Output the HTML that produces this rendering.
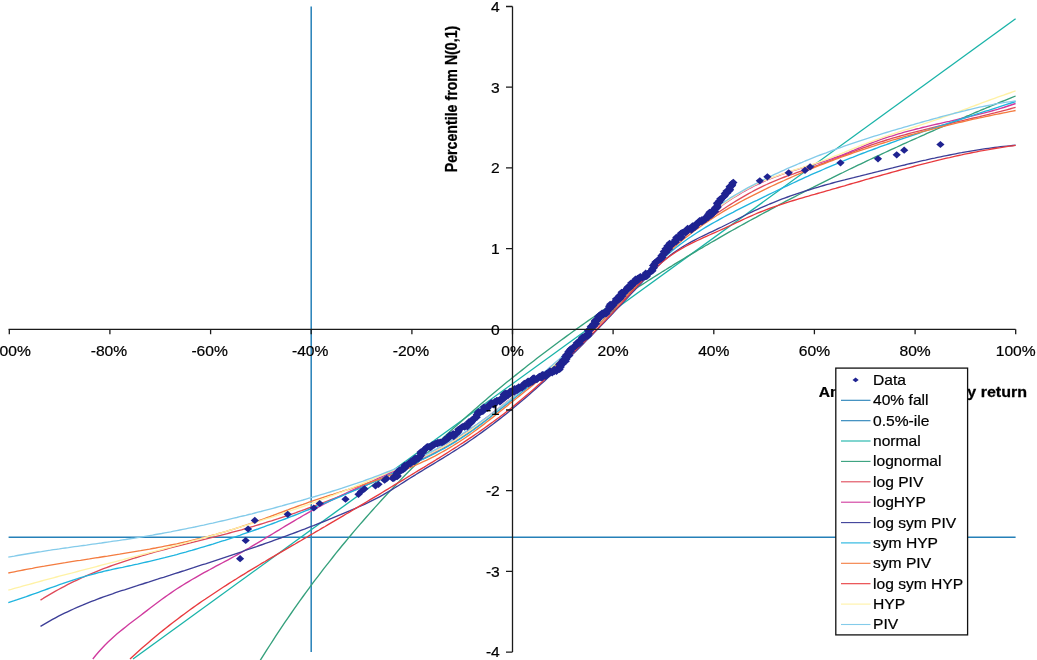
<!DOCTYPE html>
<html><head><meta charset="utf-8"><title>QQ plot</title><style>html,body{margin:0;padding:0;background:#fff}svg{display:block}</style></head><body>
<svg width="1037" height="660" viewBox="0 0 1037 660">
<rect width="1037" height="660" fill="#fff"/>
<defs><path id="d" d="M0 -3.6L4.1 0L0 3.6L-4.1 0Z"/></defs>
<clipPath id="cp"><rect x="0" y="0" width="1037" height="660"/></clipPath>
<g fill="none" stroke-width="1.5">
<path d="M311.2 6.5L311.2 652.1" stroke="#2580b8"/>
<path d="M8.6 537.2L1015.6 537.2" stroke="#2580b8"/>
</g>
<g fill="none" stroke-width="1.35" stroke-linejoin="round" clip-path="url(#cp)">
<path d="M133 659L1015.6 18.8" stroke="#19b3a8"/>
<path d="M258 664.1L261 659.2L264 654.4L267 649.7L270 645L273 640.3L276 635.7L279 631.2L282 626.7L285 622.2L288 617.8L291 613.5L294 609.2L297 604.9L300 600.7L303 596.5L306 592.4L309 588.3L312 584.2L315 580.2L318 576.3L321 572.3L324 568.4L327 564.6L330 560.8L333 557L336 553.2L339 549.5L342 545.8L345 542.2L348 538.6L351 535L354 531.4L357 527.9L360 524.4L363 521L366 517.5L369 514.1L372 510.7L375 507.4L378 504.1L381 500.8L384 497.5L387 494.3L390 491.1L393 487.9L396 484.7L399 481.6L402 478.4L405 475.3L408 472.3L411 469.2L414 466.2L417 463.2L420 460.2L423 457.3L426 454.3L429 451.4L432 448.5L435 445.6L438 442.8L441 440L444 437.1L447 434.3L450 431.6L453 428.8L456 426.1L459 423.4L462 420.7L465 418L468 415.3L471 412.7L474 410L477 407.4L480 404.8L483 402.2L486 399.7L489 397.1L492 394.6L495 392.1L498 389.6L501 387.1L504 384.6L507 382.1L510 379.7L513 377.3L516 374.9L519 372.5L522 370.1L525 367.7L528 365.3L531 363L534 360.7L537 358.3L540 356L543 353.8L546 351.5L549 349.2L552 347L555 344.7L558 342.5L561 340.3L564 338.1L567 335.9L570 333.7L573 331.5L576 329.4L579 327.2L582 325.1L585 323L588 320.9L591 318.7L594 316.7L597 314.6L600 312.5L603 310.4L606 308.4L609 306.4L612 304.3L615 302.3L618 300.3L621 298.3L624 296.3L627 294.3L630 292.4L633 290.4L636 288.5L639 286.5L642 284.6L645 282.7L648 280.8L651 278.9L654 277L657 275.1L660 273.2L663 271.3L666 269.5L669 267.6L672 265.8L675 263.9L678 262.1L681 260.3L684 258.5L687 256.7L690 254.9L693 253.1L696 251.3L699 249.5L702 247.8L705 246L708 244.3L711 242.5L714 240.8L717 239.1L720 237.3L723 235.6L726 233.9L729 232.2L732 230.5L735 228.9L738 227.2L741 225.5L744 223.8L747 222.2L750 220.5L753 218.9L756 217.3L759 215.6L762 214L765 212.4L768 210.8L771 209.2L774 207.6L777 206L780 204.4L783 202.8L786 201.2L789 199.7L792 198.1L795 196.6L798 195L801 193.5L804 191.9L807 190.4L810 188.9L813 187.4L816 185.8L819 184.3L822 182.8L825 181.3L828 179.8L831 178.4L834 176.9L837 175.4L840 173.9L843 172.5L846 171L849 169.5L852 168.1L855 166.7L858 165.2L861 163.8L864 162.4L867 160.9L870 159.5L873 158.1L876 156.7L879 155.3L882 153.9L885 152.5L888 151.1L891 149.7L894 148.3L897 147L900 145.6L903 144.2L906 142.9L909 141.5L912 140.1L915 138.8L918 137.5L921 136.1L924 134.8L927 133.4L930 132.1L933 130.8L936 129.5L939 128.2L942 126.9L945 125.6L948 124.3L951 123L954 121.7L957 120.4L960 119.1L963 117.8L966 116.5L969 115.3L972 114L975 112.7L978 111.5L981 110.2L984 109L987 107.7L990 106.5L993 105.2L996 104L999 102.7L1002 101.5L1005 100.3L1008 99.1L1011 97.9L1015.6 96" stroke="#35a07c"/>
<path d="M40.5 600.1L43.5 598.2L46.5 596.4L49.5 594.6L52.5 592.8L55.5 591.1L58.5 589.5L61.5 587.9L64.5 586.3L67.5 584.7L70.5 583.2L73.5 581.7L76.5 580.3L79.5 578.9L82.5 577.5L85.5 576.2L88.5 574.9L91.5 573.6L94.5 572.3L97.5 571.1L100.5 569.9L103.5 568.7L106.5 567.6L109.5 566.5L112.5 565.4L115.5 564.3L118.5 563.3L121.5 562.3L124.5 561.3L127.5 560.3L130.5 559.3L133.5 558.4L136.5 557.5L139.5 556.5L142.5 555.7L145.5 554.8L148.5 553.9L151.5 553.1L154.5 552.2L157.5 551.4L160.5 550.6L163.5 549.8L166.5 549L169.5 548.2L172.5 547.4L175.5 546.7L178.5 545.9L181.5 545.1L184.5 544.4L187.5 543.6L190.5 542.9L193.5 542.1L196.5 541.4L199.5 540.7L202.5 539.9L205.5 539.2L208.5 538.4L211.5 537.7L214.5 536.9L217.5 536.1L220.5 535.4L223.5 534.6L226.5 533.8L229.5 533L232.5 532.2L235.5 531.4L238.5 530.6L241.5 529.8L244.5 528.9L247.5 528.1L250.5 527.2L253.5 526.3L256.5 525.4L259.5 524.5L262.5 523.6L265.5 522.7L268.5 521.7L271.5 520.8L274.5 519.8L277.5 518.9L280.5 517.9L283.5 516.9L286.5 515.9L289.5 514.9L292.5 513.8L295.5 512.8L298.5 511.7L301.5 510.7L304.5 509.6L307.5 508.5L310.5 507.4L313.5 506.3L316.5 505.2L319.5 504.1L322.5 503L325.5 501.8L328.5 500.6L331.5 499.5L334.5 498.3L337.5 497.1L340.5 495.9L343.5 494.7L346.5 493.5L349.5 492.2L352.5 491L355.5 489.7L358.5 488.5L361.5 487.2L364.5 485.9L367.5 484.6L370.5 483.3L373.5 482L376.5 480.7L379.5 479.3L382.5 478L385.5 476.6L388.5 475.3L391.5 473.9L394.5 472.5L397.5 471.1L400.5 469.7L403.5 468.3L406.5 466.9L409.5 465.5L412.5 464L415.5 462.6L418.5 461.1L421.5 459.6L424.5 458.1L427.5 456.6L430.5 455.1L433.5 453.5L436.5 451.9L439.5 450.3L442.5 448.7L445.5 447L448.5 445.3L451.5 443.5L454.5 441.7L457.5 439.9L460.5 438L463.5 436L466.5 434.1L469.5 432L472.5 430L475.5 427.8L478.5 425.7L481.5 423.5L484.5 421.3L487.5 419L490.5 416.7L493.5 414.4L496.5 412.1L499.5 409.7L502.5 407.4L505.5 405L508.5 402.6L511.5 400.2L514.5 397.7L517.5 395.3L520.5 392.9L523.5 390.4L526.5 388L529.6 385.5L532.6 383L535.6 380.5L538.6 378L541.6 375.5L544.6 372.9L547.6 370.4L550.6 367.8L553.6 365.2L556.6 362.6L559.6 360L562.6 357.4L565.6 354.7L568.6 352L571.6 349.3L574.6 346.6L577.6 343.8L580.6 341.1L583.6 338.3L586.6 335.4L589.6 332.6L592.6 329.7L595.6 326.8L598.6 323.9L601.6 321L604.6 318L607.6 315L610.6 311.9L613.6 308.9L616.6 305.8L619.6 302.6L622.6 299.5L625.6 296.3L628.6 293L631.6 289.8L634.6 286.5L637.6 283.2L640.6 279.8L643.6 276.5L646.6 273.1L649.6 269.8L652.6 266.5L655.6 263.3L658.6 260.1L661.6 257L664.6 253.9L667.6 251L670.6 248.2L673.6 245.4L676.6 242.8L679.6 240.2L682.6 237.8L685.6 235.4L688.6 233L691.6 230.8L694.6 228.5L697.6 226.4L700.6 224.3L703.6 222.2L706.6 220.1L709.6 218.1L712.6 216.1L715.6 214.1L718.6 212.2L721.6 210.2L724.6 208.3L727.6 206.3L730.6 204.4L733.6 202.5L736.6 200.7L739.6 198.9L742.6 197.1L745.6 195.3L748.6 193.6L751.6 192L754.6 190.3L757.6 188.8L760.6 187.3L763.6 185.8L766.6 184.5L769.6 183.1L772.6 181.8L775.6 180.6L778.6 179.4L781.6 178.2L784.6 177L787.6 175.9L790.6 174.8L793.6 173.8L796.6 172.7L799.6 171.6L802.6 170.6L805.6 169.6L808.6 168.5L811.6 167.5L814.6 166.4L817.6 165.3L820.6 164.2L823.6 163.1L826.6 162L829.6 160.9L832.6 159.7L835.6 158.6L838.6 157.4L841.6 156.2L844.6 155L847.6 153.9L850.6 152.7L853.6 151.6L856.6 150.4L859.6 149.3L862.6 148.2L865.6 147.1L868.6 146L871.6 144.9L874.6 143.9L877.6 142.9L880.6 141.9L883.6 141L886.6 140L889.6 139.1L892.6 138.2L895.6 137.3L898.6 136.5L901.6 135.6L904.6 134.8L907.6 134L910.6 133.2L913.6 132.4L916.6 131.6L919.6 130.8L922.6 130.1L925.6 129.3L928.6 128.6L931.6 127.8L934.6 127.1L937.6 126.4L940.6 125.7L943.6 125L946.6 124.3L949.6 123.6L952.6 122.9L955.6 122.2L958.6 121.5L961.6 120.8L964.6 120.1L967.6 119.4L970.6 118.7L973.6 118L976.6 117.3L979.6 116.6L982.6 115.8L985.6 115.1L988.6 114.4L991.6 113.6L994.6 112.9L997.6 112.1L1000.6 111.4L1003.6 110.6L1006.6 109.8L1009.6 109L1012.6 108.1L1015.6 107.3" stroke="#df4a5a"/>
<path d="M92.8 659L95.8 655.3L98.8 651.8L101.8 648.5L104.8 645.3L107.8 642.3L110.8 639.5L113.8 636.7L116.8 634.1L119.9 631.5L122.9 629.1L125.9 626.7L128.9 624.3L131.9 622L134.9 619.7L137.9 617.5L140.9 615.2L143.9 612.9L146.9 610.6L149.9 608.3L152.9 606L155.9 603.8L158.9 601.5L161.9 599.3L164.9 597.1L167.9 595L171 592.9L174 590.8L177 588.8L180 586.9L183 585L186 583.1L189 581.3L192 579.5L195 577.8L198 576.1L201 574.4L204 572.7L207 571.1L210 569.5L213 567.8L216 566.2L219 564.6L222.1 563L225.1 561.4L228.1 559.8L231.1 558.2L234.1 556.5L237.1 554.8L240.1 553.2L243.1 551.5L246.1 549.7L249.1 548L252.1 546.2L255.1 544.4L258.1 542.6L261.1 540.8L264.1 539L267.1 537.2L270.1 535.4L273.2 533.5L276.2 531.7L279.2 529.9L282.2 528L285.2 526.2L288.2 524.4L291.2 522.6L294.2 520.8L297.2 519L300.2 517.3L303.2 515.5L306.2 513.8L309.2 512.1L312.2 510.5L315.2 508.8L318.2 507.2L321.2 505.6L324.3 504L327.3 502.5L330.3 501L333.3 499.4L336.3 497.9L339.3 496.5L342.3 495L345.3 493.6L348.3 492.1L351.3 490.7L354.3 489.3L357.3 487.9L360.3 486.5L363.3 485.1L366.3 483.7L369.3 482.4L372.3 481L375.4 479.6L378.4 478.2L381.4 476.9L384.4 475.5L387.4 474.1L390.4 472.8L393.4 471.4L396.4 470L399.4 468.6L402.4 467.2L405.4 465.8L408.4 464.4L411.4 462.9L414.4 461.5L417.4 460L420.4 458.6L423.4 457.1L426.5 455.5L429.5 454L432.5 452.4L435.5 450.8L438.5 449.2L441.5 447.5L444.5 445.8L447.5 444.1L450.5 442.3L453.5 440.5L456.5 438.6L459.5 436.7L462.5 434.7L465.5 432.7L468.5 430.7L471.5 428.6L474.5 426.4L477.6 424.2L480.6 422L483.6 419.8L486.6 417.5L489.6 415.2L492.6 412.9L495.6 410.6L498.6 408.3L501.6 406L504.6 403.6L507.6 401.3L510.6 399L513.6 396.7L516.6 394.4L519.6 392.1L522.6 389.8L525.6 387.5L528.7 385.2L531.7 382.9L534.7 380.6L537.7 378.2L540.7 375.9L543.7 373.5L546.7 371.1L549.7 368.7L552.7 366.2L555.7 363.7L558.7 361.1L561.7 358.5L564.7 355.8L567.7 353.1L570.7 350.4L573.7 347.6L576.7 344.7L579.7 341.8L582.8 338.9L585.8 335.9L588.8 332.9L591.8 329.9L594.8 326.8L597.8 323.7L600.8 320.6L603.8 317.5L606.8 314.4L609.8 311.2L612.8 308L615.8 304.8L618.8 301.7L621.8 298.5L624.8 295.3L627.8 292.1L630.8 288.9L633.9 285.7L636.9 282.5L639.9 279.4L642.9 276.2L645.9 273.1L648.9 270L651.9 266.9L654.9 263.8L657.9 260.8L660.9 257.8L663.9 254.8L666.9 251.8L669.9 248.9L672.9 246.1L675.9 243.2L678.9 240.5L681.9 237.7L685 235L688 232.4L691 229.7L694 227.2L697 224.6L700 222.1L703 219.7L706 217.3L709 215L712 212.7L715 210.4L718 208.2L721 206.1L724 204L727 201.9L730 200L733 198L736.1 196.1L739.1 194.3L742.1 192.5L745.1 190.8L748.1 189.2L751.1 187.6L754.1 186L757.1 184.6L760.1 183.1L763.1 181.8L766.1 180.5L769.1 179.2L772.1 178L775.1 176.9L778.1 175.8L781.1 174.7L784.1 173.7L787.2 172.7L790.2 171.7L793.2 170.7L796.2 169.8L799.2 168.9L802.2 167.9L805.2 167L808.2 166.1L811.2 165.2L814.2 164.3L817.2 163.4L820.2 162.5L823.2 161.5L826.2 160.6L829.2 159.6L832.2 158.6L835.2 157.5L838.3 156.5L841.3 155.3L844.3 154.2L847.3 153L850.3 151.7L853.3 150.5L856.3 149.2L859.3 148L862.3 146.7L865.3 145.4L868.3 144.2L871.3 143L874.3 141.9L877.3 140.8L880.3 139.7L883.3 138.7L886.3 137.7L889.4 136.7L892.4 135.8L895.4 134.8L898.4 133.9L901.4 133.1L904.4 132.2L907.4 131.4L910.4 130.6L913.4 129.8L916.4 129L919.4 128.3L922.4 127.5L925.4 126.8L928.4 126.1L931.4 125.4L934.4 124.7L937.4 124L940.5 123.3L943.5 122.6L946.5 121.9L949.5 121.3L952.5 120.6L955.5 119.9L958.5 119.2L961.5 118.5L964.5 117.8L967.5 117.1L970.5 116.4L973.5 115.7L976.5 114.9L979.5 114.2L982.5 113.4L985.5 112.6L988.5 111.8L991.6 111L994.6 110.1L997.6 109.3L1000.6 108.4L1003.6 107.5L1006.6 106.5L1009.6 105.5L1012.6 104.5L1015.6 103.5" stroke="#d03a9e"/>
<path d="M40.5 626.4L43.5 624.6L46.5 622.8L49.5 621.1L52.5 619.4L55.5 617.8L58.5 616.2L61.5 614.7L64.5 613.2L67.5 611.8L70.5 610.4L73.5 609L76.5 607.7L79.5 606.3L82.5 605.1L85.5 603.8L88.5 602.6L91.5 601.4L94.5 600.3L97.5 599.1L100.5 598L103.5 596.9L106.5 595.9L109.5 594.8L112.5 593.8L115.5 592.7L118.5 591.7L121.5 590.7L124.5 589.8L127.5 588.8L130.5 587.8L133.5 586.8L136.5 585.9L139.5 584.9L142.5 584L145.5 583L148.5 582.1L151.5 581.1L154.5 580.1L157.5 579.2L160.5 578.2L163.5 577.3L166.5 576.3L169.5 575.4L172.5 574.4L175.5 573.4L178.5 572.5L181.5 571.5L184.5 570.6L187.5 569.6L190.5 568.6L193.5 567.7L196.5 566.7L199.5 565.7L202.5 564.7L205.5 563.8L208.5 562.8L211.5 561.8L214.5 560.8L217.5 559.8L220.5 558.8L223.5 557.8L226.5 556.8L229.5 555.8L232.5 554.8L235.5 553.8L238.5 552.8L241.5 551.8L244.5 550.7L247.5 549.7L250.5 548.7L253.5 547.6L256.5 546.6L259.5 545.5L262.5 544.5L265.5 543.4L268.5 542.4L271.5 541.3L274.5 540.2L277.5 539.1L280.5 538L283.5 536.9L286.5 535.8L289.5 534.7L292.5 533.6L295.5 532.5L298.5 531.3L301.5 530.2L304.5 529.1L307.5 527.9L310.5 526.7L313.5 525.6L316.5 524.4L319.5 523.2L322.5 522L325.5 520.8L328.5 519.6L331.5 518.4L334.5 517.1L337.5 515.9L340.5 514.7L343.5 513.4L346.5 512.1L349.5 510.9L352.5 509.6L355.5 508.3L358.5 507L361.5 505.6L364.5 504.3L367.5 502.9L370.5 501.4L373.5 499.9L376.5 498.4L379.5 496.8L382.5 495.2L385.5 493.4L388.5 491.7L391.5 489.9L394.5 488L397.5 486.2L400.5 484.3L403.5 482.4L406.5 480.4L409.5 478.5L412.5 476.6L415.5 474.8L418.5 472.9L421.5 471.1L424.5 469.2L427.5 467.4L430.5 465.6L433.5 463.8L436.5 462L439.5 460.2L442.5 458.4L445.5 456.5L448.5 454.7L451.5 452.8L454.5 450.9L457.5 449L460.5 447L463.5 445.1L466.5 443.1L469.5 441L472.5 439L475.5 436.9L478.5 434.8L481.5 432.6L484.5 430.4L487.5 428.2L490.5 426L493.5 423.7L496.5 421.4L499.5 419.1L502.5 416.7L505.5 414.4L508.5 411.9L511.5 409.5L514.5 407L517.5 404.5L520.5 402L523.5 399.5L526.5 396.9L529.6 394.3L532.6 391.6L535.6 389L538.6 386.3L541.6 383.6L544.6 380.9L547.6 378.1L550.6 375.4L553.6 372.6L556.6 369.7L559.6 366.9L562.6 364L565.6 361.2L568.6 358.3L571.6 355.3L574.6 352.4L577.6 349.4L580.6 346.5L583.6 343.5L586.6 340.4L589.6 337.4L592.6 334.4L595.6 331.3L598.6 328.2L601.6 325.1L604.6 322L607.6 318.9L610.6 315.7L613.6 312.6L616.6 309.4L619.6 306.2L622.6 303.1L625.6 299.9L628.6 296.6L631.6 293.4L634.6 290.2L637.6 286.9L640.6 283.7L643.6 280.5L646.6 277.4L649.6 274.2L652.6 271.2L655.6 268.2L658.6 265.4L661.6 262.6L664.6 260L667.6 257.5L670.6 255.1L673.6 252.9L676.6 250.7L679.6 248.7L682.6 246.8L685.6 245L688.6 243.3L691.6 241.7L694.6 240.1L697.6 238.5L700.6 237L703.6 235.6L706.6 234.2L709.6 232.7L712.6 231.3L715.6 229.9L718.6 228.4L721.6 227L724.6 225.5L727.6 224L730.6 222.5L733.6 221L736.6 219.5L739.6 218L742.6 216.5L745.6 215L748.6 213.5L751.6 212.1L754.6 210.7L757.6 209.3L760.6 207.9L763.6 206.6L766.6 205.3L769.6 204L772.6 202.8L775.6 201.6L778.6 200.4L781.6 199.2L784.6 198.1L787.6 197L790.6 195.9L793.6 194.9L796.6 193.9L799.6 192.9L802.6 191.9L805.6 190.9L808.6 190L811.6 189.1L814.6 188.2L817.6 187.3L820.6 186.4L823.6 185.5L826.6 184.7L829.6 183.9L832.6 183L835.6 182.2L838.6 181.4L841.6 180.6L844.6 179.9L847.6 179.1L850.6 178.3L853.6 177.6L856.6 176.8L859.6 176.1L862.6 175.3L865.6 174.6L868.6 173.8L871.6 173.1L874.6 172.3L877.6 171.6L880.6 170.8L883.6 170.1L886.6 169.3L889.6 168.6L892.6 167.9L895.6 167.1L898.6 166.4L901.6 165.7L904.6 165L907.6 164.2L910.6 163.5L913.6 162.8L916.6 162.1L919.6 161.4L922.6 160.7L925.6 160.1L928.6 159.4L931.6 158.7L934.6 158.1L937.6 157.4L940.6 156.8L943.6 156.2L946.6 155.6L949.6 155L952.6 154.4L955.6 153.8L958.6 153.2L961.6 152.7L964.6 152.1L967.6 151.6L970.6 151.1L973.6 150.6L976.6 150.1L979.6 149.6L982.6 149.1L985.6 148.7L988.6 148.3L991.6 147.9L994.6 147.5L997.6 147.1L1000.6 146.7L1003.6 146.4L1006.6 146.1L1009.6 145.8L1012.6 145.5L1015.6 145.2" stroke="#3d3f98"/>
<path d="M8.3 602.6L11.3 601.6L14.3 600.7L17.3 599.7L20.3 598.6L23.3 597.6L26.3 596.6L29.3 595.5L32.4 594.4L35.4 593.4L38.4 592.3L41.4 591.2L44.4 590.1L47.4 589L50.4 587.9L53.4 586.9L56.4 585.8L59.4 584.7L62.4 583.7L65.4 582.6L68.4 581.6L71.4 580.6L74.5 579.6L77.5 578.7L80.5 577.7L83.5 576.8L86.5 575.9L89.5 575.1L92.5 574.3L95.5 573.5L98.5 572.7L101.5 572L104.5 571.2L107.5 570.5L110.5 569.9L113.5 569.2L116.5 568.5L119.6 567.9L122.6 567.3L125.6 566.6L128.6 566L131.6 565.4L134.6 564.7L137.6 564.1L140.6 563.4L143.6 562.7L146.6 562L149.6 561.3L152.6 560.6L155.6 559.9L158.6 559.2L161.7 558.4L164.7 557.7L167.7 556.9L170.7 556.1L173.7 555.4L176.7 554.6L179.7 553.7L182.7 552.9L185.7 552.1L188.7 551.2L191.7 550.4L194.7 549.5L197.7 548.6L200.7 547.7L203.7 546.8L206.8 545.9L209.8 545L212.8 544.1L215.8 543.1L218.8 542.2L221.8 541.2L224.8 540.3L227.8 539.3L230.8 538.3L233.8 537.3L236.8 536.3L239.8 535.3L242.8 534.2L245.8 533.2L248.8 532.2L251.9 531.1L254.9 530L257.9 529L260.9 527.9L263.9 526.8L266.9 525.7L269.9 524.6L272.9 523.5L275.9 522.4L278.9 521.2L281.9 520.1L284.9 519L287.9 517.8L290.9 516.6L294 515.5L297 514.3L300 513.1L303 511.9L306 510.7L309 509.5L312 508.3L315 507.1L318 505.8L321 504.6L324 503.4L327 502.1L330 500.9L333 499.6L336 498.3L339.1 497.1L342.1 495.8L345.1 494.5L348.1 493.2L351.1 491.9L354.1 490.6L357.1 489.3L360.1 488L363.1 486.7L366.1 485.3L369.1 484L372.1 482.7L375.1 481.3L378.1 480L381.2 478.6L384.2 477.3L387.2 475.9L390.2 474.5L393.2 473.1L396.2 471.8L399.2 470.4L402.2 469L405.2 467.6L408.2 466.2L411.2 464.8L414.2 463.4L417.2 461.9L420.2 460.5L423.2 459.1L426.3 457.6L429.3 456.1L432.3 454.6L435.3 453.1L438.3 451.5L441.3 449.9L444.3 448.3L447.3 446.6L450.3 444.9L453.3 443.1L456.3 441.3L459.3 439.4L462.3 437.4L465.3 435.4L468.4 433.4L471.4 431.3L474.4 429.1L477.4 426.9L480.4 424.6L483.4 422.4L486.4 420L489.4 417.7L492.4 415.3L495.4 413L498.4 410.6L501.4 408.2L504.4 405.8L507.4 403.4L510.4 401L513.5 398.6L516.5 396.2L519.5 393.9L522.5 391.5L525.5 389.2L528.5 386.8L531.5 384.4L534.5 382.1L537.5 379.7L540.5 377.3L543.5 374.8L546.5 372.4L549.5 369.9L552.5 367.4L555.5 364.9L558.6 362.3L561.6 359.7L564.6 357L567.6 354.3L570.6 351.6L573.6 348.8L576.6 346L579.6 343.1L582.6 340.2L585.6 337.3L588.6 334.3L591.6 331.3L594.6 328.3L597.6 325.3L600.7 322.2L603.7 319.2L606.7 316.1L609.7 313L612.7 309.9L615.7 306.7L618.7 303.6L621.7 300.5L624.7 297.3L627.7 294.2L630.7 291L633.7 287.9L636.7 284.7L639.7 281.6L642.7 278.5L645.8 275.4L648.8 272.4L651.8 269.4L654.8 266.4L657.8 263.5L660.8 260.7L663.8 258L666.8 255.3L669.8 252.7L672.8 250.2L675.8 247.8L678.8 245.4L681.8 243.2L684.8 241L687.9 238.8L690.9 236.8L693.9 234.7L696.9 232.8L699.9 230.9L702.9 229L705.9 227.2L708.9 225.4L711.9 223.7L714.9 222L717.9 220.3L720.9 218.6L723.9 217L726.9 215.4L729.9 213.8L733 212.3L736 210.7L739 209.2L742 207.7L745 206.2L748 204.7L751 203.2L754 201.7L757 200.3L760 198.8L763 197.3L766 195.9L769 194.4L772 193L775.1 191.5L778.1 190.1L781.1 188.7L784.1 187.2L787.1 185.8L790.1 184.4L793.1 183L796.1 181.6L799.1 180.2L802.1 178.8L805.1 177.4L808.1 176.1L811.1 174.7L814.1 173.4L817.1 172.1L820.2 170.8L823.2 169.5L826.2 168.2L829.2 166.9L832.2 165.6L835.2 164.4L838.2 163.1L841.2 161.9L844.2 160.7L847.2 159.4L850.2 158.2L853.2 157.1L856.2 155.9L859.2 154.7L862.2 153.5L865.3 152.4L868.3 151.2L871.3 150.1L874.3 149L877.3 147.9L880.3 146.7L883.3 145.6L886.3 144.6L889.3 143.5L892.3 142.4L895.3 141.3L898.3 140.2L901.3 139.2L904.3 138.1L907.4 137.1L910.4 136L913.4 135L916.4 134L919.4 133L922.4 131.9L925.4 130.9L928.4 129.9L931.4 128.9L934.4 127.9L937.4 126.9L940.4 125.9L943.4 124.9L946.4 123.9L949.4 122.9L952.5 121.9L955.5 121L958.5 120L961.5 119L964.5 118L967.5 117.1L970.5 116.1L973.5 115.1L976.5 114.1L979.5 113.2L982.5 112.2L985.5 111.2L988.5 110.3L991.5 109.3L994.6 108.3L997.6 107.4L1000.6 106.4L1003.6 105.4L1006.6 104.4L1009.6 103.5L1012.6 102.5L1015.6 101.5" stroke="#1fb4df"/>
<path d="M8.3 573L11.3 572.4L14.3 571.8L17.3 571.2L20.3 570.6L23.3 570L26.3 569.4L29.3 568.8L32.4 568.3L35.4 567.7L38.4 567.2L41.4 566.7L44.4 566.2L47.4 565.6L50.4 565.1L53.4 564.6L56.4 564.1L59.4 563.6L62.4 563.1L65.4 562.7L68.4 562.2L71.4 561.7L74.5 561.2L77.5 560.7L80.5 560.3L83.5 559.8L86.5 559.3L89.5 558.9L92.5 558.4L95.5 557.9L98.5 557.5L101.5 557L104.5 556.5L107.5 556.1L110.5 555.6L113.5 555.1L116.5 554.6L119.6 554.2L122.6 553.7L125.6 553.2L128.6 552.7L131.6 552.2L134.6 551.7L137.6 551.2L140.6 550.7L143.6 550.1L146.6 549.6L149.6 549.1L152.6 548.5L155.6 548L158.6 547.4L161.7 546.8L164.7 546.2L167.7 545.6L170.7 545L173.7 544.4L176.7 543.8L179.7 543.1L182.7 542.5L185.7 541.8L188.7 541.1L191.7 540.4L194.7 539.7L197.7 539L200.7 538.3L203.7 537.5L206.8 536.8L209.8 536L212.8 535.2L215.8 534.4L218.8 533.5L221.8 532.7L224.8 531.8L227.8 530.9L230.8 530L233.8 529.1L236.8 528.1L239.8 527.2L242.8 526.2L245.8 525.2L248.8 524.1L251.9 523.1L254.9 522L257.9 521L260.9 519.9L263.9 518.8L266.9 517.7L269.9 516.6L272.9 515.5L275.9 514.3L278.9 513.2L281.9 512.1L284.9 511L287.9 509.9L290.9 508.7L294 507.6L297 506.5L300 505.4L303 504.4L306 503.3L309 502.2L312 501.2L315 500.2L318 499.2L321 498.2L324 497.2L327 496.2L330 495.2L333 494.3L336 493.3L339.1 492.3L342.1 491.4L345.1 490.4L348.1 489.5L351.1 488.5L354.1 487.6L357.1 486.6L360.1 485.7L363.1 484.7L366.1 483.7L369.1 482.7L372.1 481.7L375.1 480.7L378.1 479.7L381.2 478.7L384.2 477.6L387.2 476.5L390.2 475.4L393.2 474.3L396.2 473.2L399.2 472L402.2 470.8L405.2 469.6L408.2 468.4L411.2 467.1L414.2 465.8L417.2 464.5L420.2 463.1L423.2 461.7L426.3 460.3L429.3 458.8L432.3 457.3L435.3 455.8L438.3 454.2L441.3 452.5L444.3 450.8L447.3 449.1L450.3 447.3L453.3 445.5L456.3 443.6L459.3 441.7L462.3 439.7L465.3 437.7L468.4 435.6L471.4 433.5L474.4 431.3L477.4 429.1L480.4 426.9L483.4 424.6L486.4 422.3L489.4 419.9L492.4 417.6L495.4 415.2L498.4 412.8L501.4 410.4L504.4 408L507.4 405.6L510.4 403.1L513.5 400.7L516.5 398.3L519.5 395.9L522.5 393.5L525.5 391L528.5 388.6L531.5 386.2L534.5 383.7L537.5 381.2L540.5 378.7L543.5 376.2L546.5 373.7L549.5 371.1L552.5 368.6L555.5 365.9L558.6 363.3L561.6 360.6L564.6 357.9L567.6 355.1L570.6 352.3L573.6 349.4L576.6 346.6L579.6 343.7L582.6 340.7L585.6 337.7L588.6 334.7L591.6 331.7L594.6 328.7L597.6 325.6L600.7 322.5L603.7 319.4L606.7 316.3L609.7 313.1L612.7 310L615.7 306.8L618.7 303.6L621.7 300.5L624.7 297.3L627.7 294.1L630.7 290.9L633.7 287.7L636.7 284.5L639.7 281.3L642.7 278.1L645.8 274.9L648.8 271.8L651.8 268.7L654.8 265.6L657.8 262.6L660.8 259.7L663.8 256.7L666.8 253.9L669.8 251.1L672.8 248.4L675.8 245.8L678.8 243.2L681.8 240.7L684.8 238.2L687.9 235.9L690.9 233.5L693.9 231.3L696.9 229L699.9 226.9L702.9 224.7L705.9 222.7L708.9 220.6L711.9 218.7L714.9 216.7L717.9 214.8L720.9 213L723.9 211.2L726.9 209.4L729.9 207.7L733 206L736 204.3L739 202.6L742 201L745 199.4L748 197.9L751 196.3L754 194.8L757 193.3L760 191.8L763 190.3L766 188.9L769 187.4L772 186L775.1 184.6L778.1 183.2L781.1 181.8L784.1 180.5L787.1 179.1L790.1 177.8L793.1 176.5L796.1 175.2L799.1 173.9L802.1 172.6L805.1 171.3L808.1 170.1L811.1 168.8L814.1 167.6L817.1 166.4L820.2 165.2L823.2 164L826.2 162.9L829.2 161.7L832.2 160.6L835.2 159.4L838.2 158.3L841.2 157.2L844.2 156.1L847.2 155L850.2 154L853.2 152.9L856.2 151.9L859.2 150.8L862.2 149.8L865.3 148.8L868.3 147.8L871.3 146.8L874.3 145.9L877.3 144.9L880.3 143.9L883.3 143L886.3 142.1L889.3 141.1L892.3 140.2L895.3 139.3L898.3 138.5L901.3 137.6L904.3 136.7L907.4 135.9L910.4 135L913.4 134.2L916.4 133.3L919.4 132.5L922.4 131.7L925.4 130.9L928.4 130.1L931.4 129.3L934.4 128.6L937.4 127.8L940.4 127L943.4 126.3L946.4 125.6L949.4 124.8L952.5 124.1L955.5 123.4L958.5 122.7L961.5 122L964.5 121.3L967.5 120.6L970.5 119.9L973.5 119.2L976.5 118.6L979.5 117.9L982.5 117.3L985.5 116.6L988.5 116L991.5 115.4L994.6 114.7L997.6 114.1L1000.6 113.5L1003.6 112.9L1006.6 112.3L1009.6 111.7L1012.6 111.1L1015.6 110.5" stroke="#f47c40"/>
<path d="M130 659L133 656.2L136 653.5L139 650.8L142 648.1L145 645.5L148 642.9L151 640.3L154 637.8L157 635.3L160 632.8L163 630.4L166 628L169 625.6L172 623.3L175 621L178 618.7L181 616.4L184 614.2L187 612L190 609.8L193 607.6L196 605.5L199 603.4L202 601.3L205.1 599.3L208.1 597.2L211.1 595.2L214.1 593.2L217.1 591.2L220.1 589.2L223.1 587.3L226.1 585.4L229.1 583.4L232.1 581.5L235.1 579.7L238.1 577.8L241.1 575.9L244.1 574.1L247.1 572.2L250.1 570.4L253.1 568.6L256.1 566.8L259.1 565L262.1 563.2L265.1 561.5L268.1 559.7L271.1 557.9L274.1 556.2L277.1 554.4L280.1 552.7L283.1 550.9L286.1 549.2L289.1 547.4L292.1 545.7L295.1 544L298.1 542.2L301.1 540.5L304.1 538.7L307.1 537L310.1 535.2L313.1 533.5L316.1 531.7L319.1 530L322.1 528.2L325.1 526.5L328.1 524.7L331.1 522.9L334.1 521.2L337.1 519.4L340.1 517.6L343.1 515.8L346.1 514L349.1 512.3L352.2 510.5L355.2 508.7L358.2 506.9L361.2 505.1L364.2 503.3L367.2 501.5L370.2 499.7L373.2 497.9L376.2 496.1L379.2 494.3L382.2 492.5L385.2 490.7L388.2 488.9L391.2 487L394.2 485.2L397.2 483.4L400.2 481.6L403.2 479.8L406.2 478L409.2 476.2L412.2 474.3L415.2 472.5L418.2 470.7L421.2 468.9L424.2 467.1L427.2 465.2L430.2 463.4L433.2 461.6L436.2 459.7L439.2 457.9L442.2 456L445.2 454.1L448.2 452.2L451.2 450.3L454.2 448.4L457.2 446.5L460.2 444.5L463.2 442.6L466.2 440.6L469.2 438.6L472.2 436.6L475.2 434.5L478.2 432.5L481.2 430.4L484.2 428.3L487.2 426.1L490.2 423.9L493.2 421.8L496.2 419.5L499.3 417.3L502.3 415L505.3 412.7L508.3 410.3L511.3 408L514.3 405.5L517.3 403.1L520.3 400.6L523.3 398.1L526.3 395.5L529.3 393L532.3 390.4L535.3 387.7L538.3 385.1L541.3 382.4L544.3 379.7L547.3 376.9L550.3 374.2L553.3 371.4L556.3 368.6L559.3 365.8L562.3 363L565.3 360.1L568.3 357.3L571.3 354.4L574.3 351.5L577.3 348.6L580.3 345.7L583.3 342.7L586.3 339.8L589.3 336.8L592.3 333.7L595.3 330.7L598.3 327.6L601.3 324.5L604.3 321.4L607.3 318.3L610.3 315.1L613.3 311.9L616.3 308.6L619.3 305.4L622.3 302.1L625.3 298.8L628.3 295.6L631.3 292.3L634.3 289.1L637.3 285.9L640.3 282.8L643.3 279.7L646.3 276.7L649.4 273.7L652.4 270.8L655.4 268L658.4 265.4L661.4 262.8L664.4 260.3L667.4 258L670.4 255.8L673.4 253.7L676.4 251.8L679.4 249.9L682.4 248.2L685.4 246.5L688.4 244.9L691.4 243.4L694.4 241.9L697.4 240.5L700.4 239.1L703.4 237.7L706.4 236.4L709.4 235L712.4 233.7L715.4 232.4L718.4 231L721.4 229.7L724.4 228.3L727.4 226.9L730.4 225.5L733.4 224.1L736.4 222.7L739.4 221.3L742.4 219.9L745.4 218.5L748.4 217.1L751.4 215.8L754.4 214.5L757.4 213.2L760.4 212L763.4 210.8L766.4 209.6L769.4 208.5L772.4 207.4L775.4 206.3L778.4 205.3L781.4 204.3L784.4 203.3L787.4 202.3L790.4 201.4L793.4 200.5L796.5 199.6L799.5 198.7L802.5 197.8L805.5 196.9L808.5 196.1L811.5 195.2L814.5 194.4L817.5 193.5L820.5 192.7L823.5 191.8L826.5 190.9L829.5 190.1L832.5 189.2L835.5 188.4L838.5 187.5L841.5 186.6L844.5 185.8L847.5 184.9L850.5 184L853.5 183.2L856.5 182.3L859.5 181.5L862.5 180.6L865.5 179.7L868.5 178.9L871.5 178L874.5 177.2L877.5 176.3L880.5 175.5L883.5 174.6L886.5 173.8L889.5 173L892.5 172.1L895.5 171.3L898.5 170.5L901.5 169.7L904.5 168.9L907.5 168.1L910.5 167.3L913.5 166.5L916.5 165.7L919.5 164.9L922.5 164.1L925.5 163.4L928.5 162.6L931.5 161.9L934.5 161.1L937.5 160.4L940.5 159.7L943.6 158.9L946.6 158.2L949.6 157.6L952.6 156.9L955.6 156.2L958.6 155.5L961.6 154.9L964.6 154.2L967.6 153.6L970.6 153L973.6 152.4L976.6 151.8L979.6 151.2L982.6 150.7L985.6 150.1L988.6 149.6L991.6 149L994.6 148.5L997.6 148L1000.6 147.6L1003.6 147.1L1006.6 146.6L1009.6 146.2L1012.6 145.8L1015.6 145.4" stroke="#e83a3e"/>
<path d="M8.3 590.1L11.3 589.3L14.3 588.4L17.3 587.6L20.3 586.8L23.3 585.9L26.3 585.1L29.3 584.3L32.4 583.5L35.4 582.6L38.4 581.8L41.4 581L44.4 580.2L47.4 579.4L50.4 578.6L53.4 577.8L56.4 577L59.4 576.2L62.4 575.4L65.4 574.6L68.4 573.8L71.4 573.1L74.5 572.3L77.5 571.5L80.5 570.7L83.5 569.9L86.5 569.1L89.5 568.4L92.5 567.6L95.5 566.8L98.5 566L101.5 565.2L104.5 564.4L107.5 563.7L110.5 562.9L113.5 562.1L116.5 561.3L119.6 560.5L122.6 559.8L125.6 559L128.6 558.2L131.6 557.4L134.6 556.6L137.6 555.8L140.6 555L143.6 554.2L146.6 553.5L149.6 552.7L152.6 551.9L155.6 551.1L158.6 550.3L161.7 549.5L164.7 548.6L167.7 547.8L170.7 547L173.7 546.2L176.7 545.4L179.7 544.6L182.7 543.7L185.7 542.9L188.7 542.1L191.7 541.2L194.7 540.4L197.7 539.6L200.7 538.7L203.7 537.9L206.8 537L209.8 536.1L212.8 535.3L215.8 534.4L218.8 533.5L221.8 532.7L224.8 531.8L227.8 530.9L230.8 530L233.8 529.1L236.8 528.2L239.8 527.2L242.8 526.3L245.8 525.4L248.8 524.5L251.9 523.5L254.9 522.6L257.9 521.6L260.9 520.7L263.9 519.7L266.9 518.7L269.9 517.8L272.9 516.8L275.9 515.8L278.9 514.8L281.9 513.8L284.9 512.7L287.9 511.7L290.9 510.7L294 509.6L297 508.6L300 507.5L303 506.5L306 505.4L309 504.3L312 503.2L315 502.1L318 501L321 499.9L324 498.7L327 497.6L330 496.4L333 495.3L336 494.1L339.1 492.9L342.1 491.8L345.1 490.6L348.1 489.4L351.1 488.2L354.1 486.9L357.1 485.7L360.1 484.5L363.1 483.2L366.1 482L369.1 480.7L372.1 479.5L375.1 478.2L378.1 476.9L381.2 475.6L384.2 474.3L387.2 473L390.2 471.7L393.2 470.4L396.2 469.1L399.2 467.7L402.2 466.4L405.2 465.1L408.2 463.7L411.2 462.3L414.2 461L417.2 459.6L420.2 458.2L423.2 456.8L426.3 455.4L429.3 453.9L432.3 452.5L435.3 451L438.3 449.4L441.3 447.8L444.3 446.2L447.3 444.6L450.3 442.9L453.3 441.1L456.3 439.3L459.3 437.4L462.3 435.5L465.3 433.5L468.4 431.5L471.4 429.4L474.4 427.2L477.4 425L480.4 422.8L483.4 420.5L486.4 418.2L489.4 415.9L492.4 413.5L495.4 411.2L498.4 408.8L501.4 406.4L504.4 404L507.4 401.7L510.4 399.3L513.5 396.9L516.5 394.6L519.5 392.3L522.5 390L525.5 387.6L528.5 385.3L531.5 383L534.5 380.6L537.5 378.3L540.5 375.9L543.5 373.5L546.5 371.1L549.5 368.7L552.5 366.2L555.5 363.7L558.6 361.1L561.6 358.5L564.6 355.8L567.6 353.1L570.6 350.4L573.6 347.6L576.6 344.7L579.6 341.8L582.6 338.9L585.6 336L588.6 333L591.6 329.9L594.6 326.9L597.6 323.8L600.7 320.7L603.7 317.6L606.7 314.5L609.7 311.3L612.7 308.2L615.7 305L618.7 301.8L621.7 298.6L624.7 295.4L627.7 292.3L630.7 289.1L633.7 285.9L636.7 282.7L639.7 279.6L642.7 276.4L645.8 273.3L648.8 270.2L651.8 267.1L654.8 264L657.8 260.9L660.8 257.9L663.8 254.9L666.8 251.9L669.8 249L672.8 246.1L675.8 243.3L678.8 240.5L681.8 237.7L684.8 235L687.9 232.3L690.9 229.6L693.9 227L696.9 224.4L699.9 221.9L702.9 219.4L705.9 217L708.9 214.6L711.9 212.3L714.9 210L717.9 207.8L720.9 205.6L723.9 203.5L726.9 201.4L729.9 199.4L733 197.5L736 195.6L739 193.7L742 191.9L745 190.2L748 188.6L751 187L754 185.4L757 184L760 182.6L763 181.2L766 180L769 178.8L772 177.6L775.1 176.5L778.1 175.4L781.1 174.4L784.1 173.3L787.1 172.4L790.1 171.4L793.1 170.4L796.1 169.5L799.1 168.6L802.1 167.6L805.1 166.7L808.1 165.7L811.1 164.8L814.1 163.8L817.1 162.8L820.2 161.7L823.2 160.6L826.2 159.5L829.2 158.4L832.2 157.2L835.2 156L838.2 154.8L841.2 153.6L844.2 152.4L847.2 151.1L850.2 149.9L853.2 148.7L856.2 147.5L859.2 146.2L862.2 145L865.3 143.9L868.3 142.7L871.3 141.6L874.3 140.5L877.3 139.4L880.3 138.3L883.3 137.2L886.3 136.2L889.3 135.2L892.3 134.2L895.3 133.2L898.3 132.2L901.3 131.2L904.3 130.2L907.4 129.3L910.4 128.3L913.4 127.3L916.4 126.4L919.4 125.4L922.4 124.4L925.4 123.4L928.4 122.4L931.4 121.4L934.4 120.4L937.4 119.3L940.4 118.3L943.4 117.2L946.4 116.1L949.4 115L952.5 113.9L955.5 112.8L958.5 111.7L961.5 110.6L964.5 109.5L967.5 108.4L970.5 107.2L973.5 106.1L976.5 105L979.5 103.9L982.5 102.7L985.5 101.6L988.5 100.5L991.5 99.4L994.6 98.3L997.6 97.2L1000.6 96.1L1003.6 95.1L1006.6 94L1009.6 93L1012.6 91.9L1015.6 90.9" stroke="#fff2a6"/>
<path d="M8.3 557.2L11.3 556.6L14.3 556.1L17.3 555.5L20.3 555L23.3 554.5L26.3 554L29.3 553.5L32.4 553L35.4 552.5L38.4 552L41.4 551.6L44.4 551.1L47.4 550.6L50.4 550.2L53.4 549.7L56.4 549.3L59.4 548.9L62.4 548.4L65.4 548L68.4 547.6L71.4 547.1L74.5 546.7L77.5 546.3L80.5 545.9L83.5 545.5L86.5 545.1L89.5 544.6L92.5 544.2L95.5 543.8L98.5 543.4L101.5 543L104.5 542.5L107.5 542.1L110.5 541.7L113.5 541.2L116.5 540.8L119.6 540.4L122.6 539.9L125.6 539.5L128.6 539L131.6 538.5L134.6 538.1L137.6 537.6L140.6 537.1L143.6 536.6L146.6 536.1L149.6 535.6L152.6 535.1L155.6 534.5L158.6 534L161.7 533.5L164.7 532.9L167.7 532.3L170.7 531.8L173.7 531.2L176.7 530.6L179.7 530L182.7 529.4L185.7 528.8L188.7 528.2L191.7 527.6L194.7 527L197.7 526.3L200.7 525.7L203.7 525.1L206.8 524.4L209.8 523.7L212.8 523.1L215.8 522.4L218.8 521.7L221.8 521L224.8 520.3L227.8 519.6L230.8 518.9L233.8 518.2L236.8 517.5L239.8 516.7L242.8 516L245.8 515.3L248.8 514.5L251.9 513.8L254.9 513L257.9 512.2L260.9 511.5L263.9 510.7L266.9 509.9L269.9 509.1L272.9 508.3L275.9 507.5L278.9 506.7L281.9 505.9L284.9 505L287.9 504.2L290.9 503.4L294 502.5L297 501.7L300 500.8L303 500L306 499.1L309 498.2L312 497.3L315 496.5L318 495.6L321 494.7L324 493.8L327 492.9L330 492L333 491L336 490.1L339.1 489.1L342.1 488.2L345.1 487.2L348.1 486.2L351.1 485.2L354.1 484.2L357.1 483.2L360.1 482.1L363.1 481.1L366.1 480L369.1 478.9L372.1 477.8L375.1 476.7L378.1 475.6L381.2 474.4L384.2 473.2L387.2 472L390.2 470.8L393.2 469.6L396.2 468.3L399.2 467L402.2 465.7L405.2 464.4L408.2 463L411.2 461.6L414.2 460.2L417.2 458.8L420.2 457.3L423.2 455.8L426.3 454.3L429.3 452.8L432.3 451.2L435.3 449.6L438.3 448L441.3 446.3L444.3 444.6L447.3 442.9L450.3 441.2L453.3 439.4L456.3 437.6L459.3 435.7L462.3 433.8L465.3 431.9L468.4 430L471.4 428L474.4 426L477.4 424L480.4 421.9L483.4 419.8L486.4 417.7L489.4 415.5L492.4 413.3L495.4 411.1L498.4 408.9L501.4 406.6L504.4 404.4L507.4 402.1L510.4 399.7L513.5 397.4L516.5 395L519.5 392.6L522.5 390.2L525.5 387.8L528.5 385.4L531.5 382.9L534.5 380.4L537.5 377.9L540.5 375.3L543.5 372.8L546.5 370.2L549.5 367.6L552.5 365L555.5 362.3L558.6 359.7L561.6 357L564.6 354.3L567.6 351.5L570.6 348.8L573.6 346L576.6 343.2L579.6 340.4L582.6 337.5L585.6 334.6L588.6 331.8L591.6 328.8L594.6 325.9L597.6 322.9L600.7 320L603.7 317L606.7 313.9L609.7 310.9L612.7 307.8L615.7 304.7L618.7 301.6L621.7 298.5L624.7 295.3L627.7 292.2L630.7 289L633.7 285.8L636.7 282.7L639.7 279.5L642.7 276.3L645.8 273.2L648.8 270L651.8 266.9L654.8 263.7L657.8 260.6L660.8 257.6L663.8 254.5L666.8 251.5L669.8 248.4L672.8 245.5L675.8 242.5L678.8 239.6L681.8 236.7L684.8 233.9L687.9 231.1L690.9 228.4L693.9 225.7L696.9 223.1L699.9 220.5L702.9 218L705.9 215.5L708.9 213.1L711.9 210.8L714.9 208.5L717.9 206.3L720.9 204.2L723.9 202.1L726.9 200.2L729.9 198.2L733 196.4L736 194.5L739 192.8L742 191.1L745 189.4L748 187.7L751 186.1L754 184.6L757 183L760 181.5L763 180L766 178.5L769 177.1L772 175.6L775.1 174.2L778.1 172.8L781.1 171.4L784.1 170.1L787.1 168.7L790.1 167.4L793.1 166.1L796.1 164.8L799.1 163.5L802.1 162.3L805.1 161L808.1 159.8L811.1 158.6L814.1 157.4L817.1 156.2L820.2 155L823.2 153.9L826.2 152.8L829.2 151.6L832.2 150.5L835.2 149.4L838.2 148.3L841.2 147.3L844.2 146.2L847.2 145.2L850.2 144.1L853.2 143.1L856.2 142.1L859.2 141.1L862.2 140.1L865.3 139.1L868.3 138.2L871.3 137.2L874.3 136.2L877.3 135.3L880.3 134.4L883.3 133.4L886.3 132.5L889.3 131.6L892.3 130.7L895.3 129.8L898.3 128.9L901.3 128.1L904.3 127.2L907.4 126.3L910.4 125.4L913.4 124.6L916.4 123.7L919.4 122.9L922.4 122L925.4 121.2L928.4 120.4L931.4 119.5L934.4 118.7L937.4 117.9L940.4 117L943.4 116.2L946.4 115.4L949.4 114.6L952.5 113.8L955.5 113L958.5 112.3L961.5 111.5L964.5 110.8L967.5 110L970.5 109.3L973.5 108.6L976.5 107.9L979.5 107.2L982.5 106.6L985.5 106L988.5 105.4L991.5 104.8L994.6 104.2L997.6 103.7L1000.6 103.2L1003.6 102.7L1006.6 102.2L1009.6 101.8L1012.6 101.4L1015.6 101" stroke="#84cbea"/>
</g>
<g fill="#1f2391">
<use href="#d" x="240.1" y="558.7"/>
<use href="#d" x="245.7" y="540.5"/>
<use href="#d" x="248.1" y="529"/>
<use href="#d" x="254.8" y="520.4"/>
<use href="#d" x="287.7" y="514.3"/>
<use href="#d" x="313.8" y="508"/>
<use href="#d" x="319.7" y="503.5"/>
<use href="#d" x="345.5" y="499.2"/>
<use href="#d" x="358.5" y="494.3"/>
<use href="#d" x="361" y="491.6"/>
<use href="#d" x="364.5" y="488.8"/>
<use href="#d" x="375.5" y="485.8"/>
<use href="#d" x="378.5" y="484.3"/>
<use href="#d" x="384.6" y="480.2"/>
<use href="#d" x="386.6" y="478.6"/>
<use href="#d" x="392.6" y="478.4"/>
<use href="#d" x="393.8" y="478.4"/>
<use href="#d" x="394" y="476.6"/>
<use href="#d" x="395.3" y="476.5"/>
<use href="#d" x="397" y="476.7"/>
<use href="#d" x="397.8" y="475.9"/>
<use href="#d" x="396.6" y="473.2"/>
<use href="#d" x="397.6" y="472.6"/>
<use href="#d" x="398" y="471.4"/>
<use href="#d" x="399.8" y="471.7"/>
<use href="#d" x="399.6" y="469.8"/>
<use href="#d" x="401.5" y="470.2"/>
<use href="#d" x="402.8" y="470"/>
<use href="#d" x="402.7" y="468.2"/>
<use href="#d" x="404.5" y="468.6"/>
<use href="#d" x="405.1" y="467.6"/>
<use href="#d" x="404.6" y="465.3"/>
<use href="#d" x="406.7" y="466.1"/>
<use href="#d" x="406.9" y="464.6"/>
<use href="#d" x="408.1" y="464.4"/>
<use href="#d" x="408.8" y="463.4"/>
<use href="#d" x="410.5" y="463.9"/>
<use href="#d" x="410.9" y="462.5"/>
<use href="#d" x="411.2" y="461.1"/>
<use href="#d" x="412.9" y="461.6"/>
<use href="#d" x="414.3" y="461.6"/>
<use href="#d" x="414.1" y="459.6"/>
<use href="#d" x="414.6" y="458.6"/>
<use href="#d" x="415.8" y="458.2"/>
<use href="#d" x="418" y="458.8"/>
<use href="#d" x="418.9" y="458.2"/>
<use href="#d" x="418.9" y="456.6"/>
<use href="#d" x="420.2" y="456.4"/>
<use href="#d" x="420.9" y="455.5"/>
<use href="#d" x="420.5" y="453.5"/>
<use href="#d" x="420.6" y="452"/>
<use href="#d" x="422.8" y="452.7"/>
<use href="#d" x="423.3" y="451.7"/>
<use href="#d" x="423.7" y="450.5"/>
<use href="#d" x="424.2" y="449.4"/>
<use href="#d" x="425.4" y="449.1"/>
<use href="#d" x="426.4" y="448.5"/>
<use href="#d" x="426.7" y="447.2"/>
<use href="#d" x="427.7" y="446.5"/>
<use href="#d" x="429.1" y="446.7"/>
<use href="#d" x="430.6" y="447.7"/>
<use href="#d" x="431.3" y="446.4"/>
<use href="#d" x="432" y="445"/>
<use href="#d" x="433.1" y="444.6"/>
<use href="#d" x="434.3" y="444.9"/>
<use href="#d" x="435.1" y="443.7"/>
<use href="#d" x="436.1" y="443.3"/>
<use href="#d" x="437.5" y="444"/>
<use href="#d" x="437.9" y="442.3"/>
<use href="#d" x="439.5" y="443"/>
<use href="#d" x="440.2" y="442.1"/>
<use href="#d" x="441.8" y="442.6"/>
<use href="#d" x="442.8" y="442.2"/>
<use href="#d" x="443.7" y="441.5"/>
<use href="#d" x="444.6" y="441"/>
<use href="#d" x="445" y="439.4"/>
<use href="#d" x="446.5" y="439.8"/>
<use href="#d" x="446.9" y="438.2"/>
<use href="#d" x="448.3" y="438.4"/>
<use href="#d" x="448.7" y="437"/>
<use href="#d" x="449.9" y="436.8"/>
<use href="#d" x="450" y="435"/>
<use href="#d" x="451.3" y="435"/>
<use href="#d" x="453.7" y="436.6"/>
<use href="#d" x="453.1" y="433.7"/>
<use href="#d" x="455" y="434.5"/>
<use href="#d" x="455.8" y="433.8"/>
<use href="#d" x="456.9" y="433.4"/>
<use href="#d" x="457.3" y="432"/>
<use href="#d" x="458.5" y="431.8"/>
<use href="#d" x="458.3" y="429.6"/>
<use href="#d" x="459.2" y="429"/>
<use href="#d" x="460.3" y="428.7"/>
<use href="#d" x="461.2" y="427.9"/>
<use href="#d" x="461.9" y="427.1"/>
<use href="#d" x="462.9" y="426.6"/>
<use href="#d" x="464.7" y="427.2"/>
<use href="#d" x="464.7" y="425.5"/>
<use href="#d" x="467.4" y="426.8"/>
<use href="#d" x="467.5" y="425.3"/>
<use href="#d" x="467.9" y="424.1"/>
<use href="#d" x="469.1" y="423.8"/>
<use href="#d" x="468.8" y="421.9"/>
<use href="#d" x="471.2" y="422.8"/>
<use href="#d" x="471.8" y="421.8"/>
<use href="#d" x="472.3" y="420.7"/>
<use href="#d" x="472.4" y="419.3"/>
<use href="#d" x="474.1" y="419.5"/>
<use href="#d" x="474.7" y="418.5"/>
<use href="#d" x="475.2" y="417.5"/>
<use href="#d" x="476.7" y="417.3"/>
<use href="#d" x="476.7" y="415.8"/>
<use href="#d" x="476.8" y="414.4"/>
<use href="#d" x="478.1" y="414"/>
<use href="#d" x="477.9" y="412.4"/>
<use href="#d" x="478.7" y="411.6"/>
<use href="#d" x="480.8" y="412.1"/>
<use href="#d" x="481.8" y="411.5"/>
<use href="#d" x="482.9" y="411.3"/>
<use href="#d" x="483.4" y="410.5"/>
<use href="#d" x="483.8" y="409"/>
<use href="#d" x="483.9" y="407"/>
<use href="#d" x="485.6" y="407.7"/>
<use href="#d" x="487.3" y="408.5"/>
<use href="#d" x="488" y="407.5"/>
<use href="#d" x="488.4" y="406"/>
<use href="#d" x="489.3" y="405.3"/>
<use href="#d" x="489.9" y="404"/>
<use href="#d" x="490.9" y="403.4"/>
<use href="#d" x="491.8" y="402.6"/>
<use href="#d" x="493.9" y="404.9"/>
<use href="#d" x="494.6" y="403.7"/>
<use href="#d" x="494.9" y="401.6"/>
<use href="#d" x="496.3" y="402.1"/>
<use href="#d" x="496.8" y="400.4"/>
<use href="#d" x="498.1" y="400.6"/>
<use href="#d" x="499.9" y="401.8"/>
<use href="#d" x="500.8" y="401"/>
<use href="#d" x="501.1" y="399.7"/>
<use href="#d" x="501.2" y="398.3"/>
<use href="#d" x="503" y="398.4"/>
<use href="#d" x="504.5" y="398.2"/>
<use href="#d" x="503.8" y="396.2"/>
<use href="#d" x="503.6" y="394.4"/>
<use href="#d" x="504.7" y="393.5"/>
<use href="#d" x="505.9" y="393"/>
<use href="#d" x="508.2" y="395.3"/>
<use href="#d" x="508.6" y="393.5"/>
<use href="#d" x="510" y="394"/>
<use href="#d" x="510" y="391.3"/>
<use href="#d" x="511.1" y="391.1"/>
<use href="#d" x="512.8" y="392"/>
<use href="#d" x="514.1" y="392.2"/>
<use href="#d" x="514.2" y="389.9"/>
<use href="#d" x="514.7" y="388.5"/>
<use href="#d" x="517" y="390.6"/>
<use href="#d" x="517" y="388.3"/>
<use href="#d" x="518.8" y="389.2"/>
<use href="#d" x="518.8" y="386.8"/>
<use href="#d" x="520.7" y="388"/>
<use href="#d" x="521.9" y="387.9"/>
<use href="#d" x="522.6" y="386.9"/>
<use href="#d" x="522.8" y="385.2"/>
<use href="#d" x="524.5" y="385.8"/>
<use href="#d" x="524.3" y="383.4"/>
<use href="#d" x="525.6" y="383.3"/>
<use href="#d" x="526.7" y="383.1"/>
<use href="#d" x="528.5" y="383.9"/>
<use href="#d" x="528.1" y="381.1"/>
<use href="#d" x="530.4" y="382.8"/>
<use href="#d" x="531.2" y="382"/>
<use href="#d" x="532.5" y="381.9"/>
<use href="#d" x="532.3" y="379.5"/>
<use href="#d" x="532.9" y="378.4"/>
<use href="#d" x="534" y="377.9"/>
<use href="#d" x="535.8" y="379.4"/>
<use href="#d" x="536.9" y="379.6"/>
<use href="#d" x="537.7" y="378.3"/>
<use href="#d" x="538.5" y="377.3"/>
<use href="#d" x="539.4" y="376.3"/>
<use href="#d" x="541" y="377.9"/>
<use href="#d" x="542.1" y="377.7"/>
<use href="#d" x="542.3" y="374.7"/>
<use href="#d" x="543.4" y="374.8"/>
<use href="#d" x="545.3" y="376.3"/>
<use href="#d" x="546.4" y="375.8"/>
<use href="#d" x="546.5" y="373.6"/>
<use href="#d" x="547.4" y="373"/>
<use href="#d" x="548.6" y="373"/>
<use href="#d" x="549.8" y="372.8"/>
<use href="#d" x="550" y="370.9"/>
<use href="#d" x="552.2" y="372.8"/>
<use href="#d" x="552.7" y="371.3"/>
<use href="#d" x="554.1" y="371.6"/>
<use href="#d" x="554.2" y="369.4"/>
<use href="#d" x="556.4" y="371.3"/>
<use href="#d" x="557" y="370.1"/>
<use href="#d" x="557.4" y="368.3"/>
<use href="#d" x="559.6" y="369.4"/>
<use href="#d" x="559.8" y="367.7"/>
<use href="#d" x="560.8" y="367.1"/>
<use href="#d" x="559.2" y="364.6"/>
<use href="#d" x="559.8" y="363.7"/>
<use href="#d" x="562.5" y="364.3"/>
<use href="#d" x="561.9" y="362.4"/>
<use href="#d" x="563.1" y="362"/>
<use href="#d" x="562.7" y="360.3"/>
<use href="#d" x="565.8" y="361.2"/>
<use href="#d" x="565" y="359.3"/>
<use href="#d" x="566.6" y="359.1"/>
<use href="#d" x="565.1" y="356.6"/>
<use href="#d" x="566.9" y="356.6"/>
<use href="#d" x="566.3" y="354.8"/>
<use href="#d" x="569.4" y="355.6"/>
<use href="#d" x="568.7" y="353.8"/>
<use href="#d" x="568.2" y="352.1"/>
<use href="#d" x="568.9" y="351.2"/>
<use href="#d" x="570.9" y="351.3"/>
<use href="#d" x="570.2" y="349.4"/>
<use href="#d" x="571.1" y="348.7"/>
<use href="#d" x="572.5" y="348.4"/>
<use href="#d" x="573.3" y="347.6"/>
<use href="#d" x="574.3" y="347.1"/>
<use href="#d" x="575.3" y="346.5"/>
<use href="#d" x="575.5" y="345.1"/>
<use href="#d" x="576.9" y="345"/>
<use href="#d" x="576.7" y="343"/>
<use href="#d" x="577.8" y="342.6"/>
<use href="#d" x="579.8" y="343.3"/>
<use href="#d" x="579.2" y="340.9"/>
<use href="#d" x="580.2" y="340.3"/>
<use href="#d" x="581" y="339.7"/>
<use href="#d" x="582.4" y="339.6"/>
<use href="#d" x="582.1" y="337.6"/>
<use href="#d" x="583" y="336.9"/>
<use href="#d" x="584.9" y="337.4"/>
<use href="#d" x="585" y="335.8"/>
<use href="#d" x="587.1" y="336.5"/>
<use href="#d" x="588.1" y="335.7"/>
<use href="#d" x="588" y="334.3"/>
<use href="#d" x="588.9" y="333.5"/>
<use href="#d" x="588.5" y="332"/>
<use href="#d" x="588" y="330.5"/>
<use href="#d" x="589.7" y="330.2"/>
<use href="#d" x="590.1" y="329.1"/>
<use href="#d" x="591.4" y="328.7"/>
<use href="#d" x="590.7" y="326.8"/>
<use href="#d" x="591.5" y="326.1"/>
<use href="#d" x="593.9" y="326.3"/>
<use href="#d" x="592.9" y="324.3"/>
<use href="#d" x="593.9" y="323.7"/>
<use href="#d" x="596.1" y="323.8"/>
<use href="#d" x="594.8" y="321.6"/>
<use href="#d" x="595" y="320.4"/>
<use href="#d" x="597.2" y="320.7"/>
<use href="#d" x="597.6" y="319.6"/>
<use href="#d" x="598.5" y="319"/>
<use href="#d" x="598" y="316.7"/>
<use href="#d" x="599.7" y="317"/>
<use href="#d" x="599.5" y="315.2"/>
<use href="#d" x="600.9" y="315.1"/>
<use href="#d" x="602.8" y="315.5"/>
<use href="#d" x="602.1" y="313.1"/>
<use href="#d" x="603.5" y="313"/>
<use href="#d" x="606" y="314"/>
<use href="#d" x="606.8" y="313.1"/>
<use href="#d" x="606.2" y="311.1"/>
<use href="#d" x="607.7" y="310.9"/>
<use href="#d" x="608.1" y="309.8"/>
<use href="#d" x="608.4" y="308.6"/>
<use href="#d" x="610.2" y="308.7"/>
<use href="#d" x="609.1" y="306.3"/>
<use href="#d" x="611.6" y="307"/>
<use href="#d" x="610.2" y="304.3"/>
<use href="#d" x="613.1" y="305.5"/>
<use href="#d" x="613.4" y="304.3"/>
<use href="#d" x="613.6" y="302.9"/>
<use href="#d" x="615" y="302.7"/>
<use href="#d" x="615.2" y="301.4"/>
<use href="#d" x="616.8" y="301.4"/>
<use href="#d" x="615.9" y="299"/>
<use href="#d" x="617.6" y="299.1"/>
<use href="#d" x="619.3" y="299.2"/>
<use href="#d" x="620.2" y="298.5"/>
<use href="#d" x="619.1" y="296"/>
<use href="#d" x="619.9" y="295.3"/>
<use href="#d" x="622.4" y="296"/>
<use href="#d" x="621.7" y="293.9"/>
<use href="#d" x="621.6" y="292.3"/>
<use href="#d" x="624.1" y="293.1"/>
<use href="#d" x="624.1" y="291.6"/>
<use href="#d" x="625.7" y="291.5"/>
<use href="#d" x="625.7" y="290.1"/>
<use href="#d" x="626.5" y="289.3"/>
<use href="#d" x="627" y="288.3"/>
<use href="#d" x="627.5" y="287.2"/>
<use href="#d" x="629.8" y="287.9"/>
<use href="#d" x="629.9" y="286.5"/>
<use href="#d" x="631" y="286"/>
<use href="#d" x="632" y="285.4"/>
<use href="#d" x="631.1" y="283"/>
<use href="#d" x="633.6" y="283.8"/>
<use href="#d" x="634" y="283"/>
<use href="#d" x="634.1" y="281.4"/>
<use href="#d" x="635.2" y="281.2"/>
<use href="#d" x="635.5" y="279.2"/>
<use href="#d" x="637.5" y="280.8"/>
<use href="#d" x="637.6" y="278.4"/>
<use href="#d" x="639.1" y="279.1"/>
<use href="#d" x="639.5" y="277.3"/>
<use href="#d" x="640.4" y="276.6"/>
<use href="#d" x="642.2" y="277.8"/>
<use href="#d" x="643" y="277"/>
<use href="#d" x="644.3" y="276.9"/>
<use href="#d" x="645.4" y="276.6"/>
<use href="#d" x="646.7" y="276.4"/>
<use href="#d" x="645.7" y="273.2"/>
<use href="#d" x="647.7" y="274.1"/>
<use href="#d" x="648.5" y="273.3"/>
<use href="#d" x="649.5" y="272.8"/>
<use href="#d" x="650.2" y="271.8"/>
<use href="#d" x="650.9" y="271"/>
<use href="#d" x="652.5" y="270.8"/>
<use href="#d" x="652" y="269"/>
<use href="#d" x="652.9" y="268.3"/>
<use href="#d" x="654" y="267.8"/>
<use href="#d" x="653" y="265.6"/>
<use href="#d" x="654.7" y="265.5"/>
<use href="#d" x="654.4" y="263.9"/>
<use href="#d" x="655.2" y="263.2"/>
<use href="#d" x="655.5" y="262"/>
<use href="#d" x="656.7" y="261.6"/>
<use href="#d" x="657.3" y="260.7"/>
<use href="#d" x="658.8" y="260.4"/>
<use href="#d" x="659.6" y="259.6"/>
<use href="#d" x="661" y="259.1"/>
<use href="#d" x="660.6" y="257.6"/>
<use href="#d" x="662.4" y="257.4"/>
<use href="#d" x="661.5" y="255.5"/>
<use href="#d" x="663.2" y="255.3"/>
<use href="#d" x="663.2" y="254"/>
<use href="#d" x="664.1" y="253.3"/>
<use href="#d" x="663.8" y="251.6"/>
<use href="#d" x="666.3" y="252.3"/>
<use href="#d" x="666.5" y="251.1"/>
<use href="#d" x="665.5" y="248.8"/>
<use href="#d" x="667.3" y="248.8"/>
<use href="#d" x="669.2" y="249"/>
<use href="#d" x="667.3" y="246"/>
<use href="#d" x="668.7" y="245.7"/>
<use href="#d" x="670.6" y="245.9"/>
<use href="#d" x="669.6" y="243.3"/>
<use href="#d" x="672.1" y="244.5"/>
<use href="#d" x="672.6" y="243.3"/>
<use href="#d" x="673.8" y="243"/>
<use href="#d" x="674.1" y="241.7"/>
<use href="#d" x="675.9" y="242"/>
<use href="#d" x="675.3" y="239.7"/>
<use href="#d" x="676.7" y="239.6"/>
<use href="#d" x="676.3" y="237.4"/>
<use href="#d" x="678.3" y="238.1"/>
<use href="#d" x="678.8" y="237"/>
<use href="#d" x="681" y="237.8"/>
<use href="#d" x="681.7" y="237"/>
<use href="#d" x="680.6" y="234.1"/>
<use href="#d" x="681.2" y="233.1"/>
<use href="#d" x="682.3" y="232.5"/>
<use href="#d" x="683.4" y="232.1"/>
<use href="#d" x="685.4" y="233"/>
<use href="#d" x="685.9" y="231.8"/>
<use href="#d" x="686.8" y="231.2"/>
<use href="#d" x="687.6" y="230.3"/>
<use href="#d" x="687.6" y="228.4"/>
<use href="#d" x="689.3" y="228.9"/>
<use href="#d" x="691.4" y="230.1"/>
<use href="#d" x="691.9" y="228.9"/>
<use href="#d" x="692.4" y="227.6"/>
<use href="#d" x="692.6" y="225.8"/>
<use href="#d" x="694.9" y="227.5"/>
<use href="#d" x="694.9" y="225.4"/>
<use href="#d" x="696.2" y="225.4"/>
<use href="#d" x="696.4" y="223.5"/>
<use href="#d" x="697.5" y="223.4"/>
<use href="#d" x="698.5" y="222.8"/>
<use href="#d" x="699.5" y="222.4"/>
<use href="#d" x="699.6" y="220.7"/>
<use href="#d" x="701.9" y="221.9"/>
<use href="#d" x="701.7" y="219.8"/>
<use href="#d" x="703.5" y="220.4"/>
<use href="#d" x="704.4" y="219.8"/>
<use href="#d" x="705.5" y="219.4"/>
<use href="#d" x="705.5" y="217.5"/>
<use href="#d" x="706.3" y="216.9"/>
<use href="#d" x="708.3" y="217.3"/>
<use href="#d" x="708.1" y="215.6"/>
<use href="#d" x="708.3" y="214.3"/>
<use href="#d" x="711" y="215.4"/>
<use href="#d" x="709.5" y="212.3"/>
<use href="#d" x="712.5" y="213.8"/>
<use href="#d" x="711.8" y="211.5"/>
<use href="#d" x="712.7" y="211"/>
<use href="#d" x="715.1" y="211.4"/>
<use href="#d" x="714.2" y="209.3"/>
<use href="#d" x="715.6" y="209"/>
<use href="#d" x="715.3" y="207.5"/>
<use href="#d" x="717.5" y="207.6"/>
<use href="#d" x="717.5" y="206.3"/>
<use href="#d" x="717.4" y="204.9"/>
<use href="#d" x="716.9" y="203.2"/>
<use href="#d" x="718.3" y="202.8"/>
<use href="#d" x="719.3" y="202.2"/>
<use href="#d" x="719.3" y="200.8"/>
<use href="#d" x="720.6" y="200.4"/>
<use href="#d" x="720.3" y="198.8"/>
<use href="#d" x="721.7" y="198.5"/>
<use href="#d" x="722.5" y="197.6"/>
<use href="#d" x="723.5" y="197"/>
<use href="#d" x="724.3" y="196.3"/>
<use href="#d" x="724.9" y="195.4"/>
<use href="#d" x="724.7" y="193.8"/>
<use href="#d" x="725.5" y="193"/>
<use href="#d" x="727.3" y="193"/>
<use href="#d" x="726.5" y="191"/>
<use href="#d" x="728.3" y="191"/>
<use href="#d" x="729.6" y="190.6"/>
<use href="#d" x="730.1" y="189.6"/>
<use href="#d" x="729.7" y="187.9"/>
<use href="#d" x="729.6" y="186.5"/>
<use href="#d" x="731.2" y="186.3"/>
<use href="#d" x="732.1" y="185.5"/>
<use href="#d" x="732.3" y="184.3"/>
<use href="#d" x="732.4" y="183"/>
<use href="#d" x="733.4" y="182.4"/>
<use href="#d" x="759.8" y="180.8"/>
<use href="#d" x="767.4" y="176.8"/>
<use href="#d" x="788.7" y="172.8"/>
<use href="#d" x="805" y="170.3"/>
<use href="#d" x="810.1" y="166.9"/>
<use href="#d" x="840.5" y="162.8"/>
<use href="#d" x="878" y="158.8"/>
<use href="#d" x="896.7" y="154.8"/>
<use href="#d" x="904.2" y="150.2"/>
<use href="#d" x="940.4" y="144.5"/>
</g>
<g stroke="#1a1a1a" stroke-width="1.3" fill="none">
<path d="M8.6 329.3L1015.6 329.3"/>
<path d="M512.5 6.5L512.5 652.1"/>
<path d="M9.3 329.3L9.3 334.3M109.9 329.3L109.9 334.3M210.6 329.3L210.6 334.3M311.2 329.3L311.2 334.3M411.9 329.3L411.9 334.3M512.5 329.3L512.5 334.3M613.1 329.3L613.1 334.3M713.8 329.3L713.8 334.3M814.4 329.3L814.4 334.3M915.1 329.3L915.1 334.3M1015.7 329.3L1015.7 334.3M506.0 652.1L512.5 652.1M506.0 571.4L512.5 571.4M506.0 490.7L512.5 490.7M506.0 410L512.5 410M506.0 248.6L512.5 248.6M506.0 167.9L512.5 167.9M506.0 87.2L512.5 87.2M506.0 6.5L512.5 6.5"/>
</g>
<g font-family="Liberation Sans, Arial, sans-serif" font-size="14.2" fill="#000" stroke="#000" stroke-width="0.2">
<text transform="translate(8.3 355.9) scale(1.1 1)" text-anchor="middle">-100%</text>
<text transform="translate(108.9 355.9) scale(1.1 1)" text-anchor="middle">-80%</text>
<text transform="translate(209.6 355.9) scale(1.1 1)" text-anchor="middle">-60%</text>
<text transform="translate(310.2 355.9) scale(1.1 1)" text-anchor="middle">-40%</text>
<text transform="translate(410.9 355.9) scale(1.1 1)" text-anchor="middle">-20%</text>
<text transform="translate(512.5 355.9) scale(1.1 1)" text-anchor="middle">0%</text>
<text transform="translate(613.1 355.9) scale(1.1 1)" text-anchor="middle">20%</text>
<text transform="translate(713.8 355.9) scale(1.1 1)" text-anchor="middle">40%</text>
<text transform="translate(814.4 355.9) scale(1.1 1)" text-anchor="middle">60%</text>
<text transform="translate(915.1 355.9) scale(1.1 1)" text-anchor="middle">80%</text>
<text transform="translate(1015.7 355.9) scale(1.1 1)" text-anchor="middle">100%</text>
<text transform="translate(499.8 657.4) scale(1.1 1)" text-anchor="end">-4</text>
<text transform="translate(499.8 576.7) scale(1.1 1)" text-anchor="end">-3</text>
<text transform="translate(499.8 496) scale(1.1 1)" text-anchor="end">-2</text>
<text transform="translate(499.8 415.3) scale(1.1 1)" text-anchor="end">-1</text>
<text transform="translate(499.8 334.6) scale(1.1 1)" text-anchor="end">0</text>
<text transform="translate(499.8 253.9) scale(1.1 1)" text-anchor="end">1</text>
<text transform="translate(499.8 173.2) scale(1.1 1)" text-anchor="end">2</text>
<text transform="translate(499.8 92.5) scale(1.1 1)" text-anchor="end">3</text>
<text transform="translate(499.8 11.8) scale(1.1 1)" text-anchor="end">4</text>
</g>
<g font-family="Liberation Sans, Arial, sans-serif" font-size="14.2" font-weight="bold" fill="#000" stroke="#000" stroke-width="0.25">
<text transform="translate(457.2 172.3) scale(1.1 1) rotate(-90)">Percentile from N(0,1)</text>
<text transform="translate(818.7 397) scale(1.1 1)" text-anchor="start">Annual</text>
<text transform="translate(1027 397) scale(1.13 1)" text-anchor="end">equity return</text>
</g>
<rect x="835.8" y="368.1" width="131.8" height="266.8" fill="#fff" stroke="#111" stroke-width="1.3"/>
<path d="M855.6 377.5l3.1 2.4l-3.1 2.4l-3.1 -2.4z" fill="#1f2391"/>
<g font-family="Liberation Sans, Arial, sans-serif" font-size="14.2" fill="#000" stroke="#000" stroke-width="0.2">
<text transform="translate(873 384.8) scale(1.1 1)" text-anchor="start">Data</text>
<path d="M841 400.3L870.5 400.3" stroke="#2580b8" stroke-width="1.1"/>
<text transform="translate(873 405.2) scale(1.1 1)" text-anchor="start">40% fall</text>
<path d="M841 420.7L870.5 420.7" stroke="#2580b8" stroke-width="1.1"/>
<text transform="translate(873 425.6) scale(1.1 1)" text-anchor="start">0.5%-ile</text>
<path d="M841 441L870.5 441" stroke="#19b3a8" stroke-width="1.1"/>
<text transform="translate(873 445.9) scale(1.1 1)" text-anchor="start">normal</text>
<path d="M841 461.4L870.5 461.4" stroke="#35a07c" stroke-width="1.1"/>
<text transform="translate(873 466.3) scale(1.1 1)" text-anchor="start">lognormal</text>
<path d="M841 481.8L870.5 481.8" stroke="#df4a5a" stroke-width="1.1"/>
<text transform="translate(873 486.7) scale(1.1 1)" text-anchor="start">log PIV</text>
<path d="M841 502.2L870.5 502.2" stroke="#d03a9e" stroke-width="1.1"/>
<text transform="translate(873 507.1) scale(1.1 1)" text-anchor="start">logHYP</text>
<path d="M841 522.6L870.5 522.6" stroke="#3d3f98" stroke-width="1.1"/>
<text transform="translate(873 527.5) scale(1.1 1)" text-anchor="start">log sym PIV</text>
<path d="M841 542.9L870.5 542.9" stroke="#1fb4df" stroke-width="1.1"/>
<text transform="translate(873 547.8) scale(1.1 1)" text-anchor="start">sym HYP</text>
<path d="M841 563.3L870.5 563.3" stroke="#f47c40" stroke-width="1.1"/>
<text transform="translate(873 568.2) scale(1.1 1)" text-anchor="start">sym PIV</text>
<path d="M841 583.7L870.5 583.7" stroke="#e83a3e" stroke-width="1.1"/>
<text transform="translate(873 588.6) scale(1.1 1)" text-anchor="start">log sym HYP</text>
<path d="M841 604.1L870.5 604.1" stroke="#fff2a6" stroke-width="1.1"/>
<text transform="translate(873 609) scale(1.1 1)" text-anchor="start">HYP</text>
<path d="M841 624.5L870.5 624.5" stroke="#84cbea" stroke-width="1.1"/>
<text transform="translate(873 629.4) scale(1.1 1)" text-anchor="start">PIV</text>
</g>
</svg>
</body></html>
